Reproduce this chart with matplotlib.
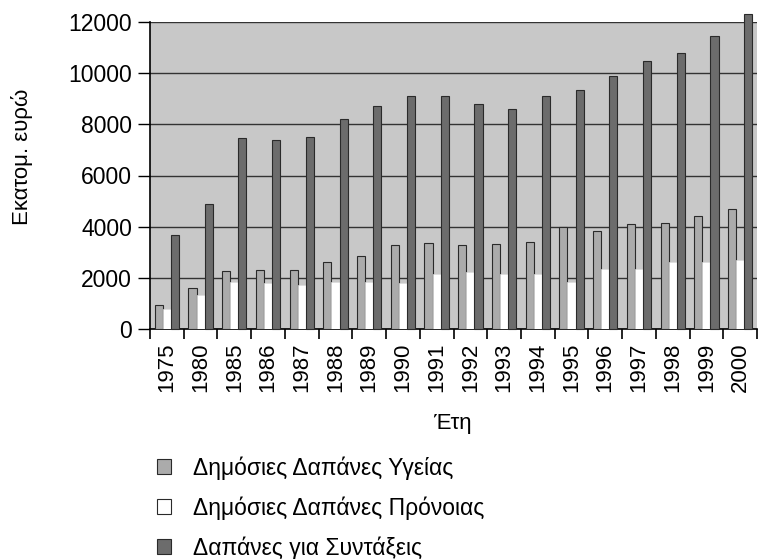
import matplotlib
matplotlib.use("Agg")
import matplotlib.pyplot as plt
import numpy as np
from matplotlib.patches import Patch

years = ["1975", "1980", "1985", "1986", "1987", "1988", "1989", "1990", "1991", "1992",
         "1993", "1994", "1995", "1996", "1997", "1998", "1999", "2000"]
health = [920, 1600, 2280, 2300, 2300, 2600, 2840, 3270, 3350, 3290,
          3340, 3390, 3970, 3830, 4100, 4160, 4400, 4680]
welfare = [800, 1330, 1830, 1800, 1730, 1830, 1850, 1800, 2140, 2230,
           2140, 2140, 1840, 2330, 2330, 2630, 2630, 2710]
pensions = [3670, 4880, 7450, 7400, 7500, 8200, 8700, 9120, 9120, 8800,
            8580, 9120, 9350, 9880, 10480, 10800, 11470, 12300]
series_labels = ["Δημόσιες Δαπάνες Υγείας", "Δημόσιες Δαπάνες Πρόνοιας", "Δαπάνες για Συντάξεις"]
y_ticks = [0, 2000, 4000, 6000, 8000, 10000, 12000]

plt.rcParams['font.family'] = ['Liberation Sans', 'DejaVu Sans']

W, H = 759, 559
fig = plt.figure(figsize=(W / 100, H / 100), dpi=100)
left, right, bottom, top = 150, 757, 329, 22
ax = fig.add_axes([left / W, 1 - bottom / H, (right - left) / W, (bottom - top) / H])

bg = "#c8c8c8"
c_health = "#ababab"
c_welfare = "#ffffff"
c_pension = "#6c6c6c"
edge = "#2a2a2a"

ax.set_facecolor(bg)
x = np.arange(len(years))
bw = 0.24
ax.bar(x - bw, health, bw, color=c_health, edgecolor=edge, linewidth=0.8, zorder=3)
ax.bar(x, welfare, bw, color=c_welfare, edgecolor="#dddddd", linewidth=0.5, zorder=3)
bars = ax.bar(x + bw, pensions, bw, color=c_pension, edgecolor=edge, linewidth=0.8, zorder=3)
for b in bars:
    b.set_clip_on(False)

ax.set_xlim(-0.5, len(years) - 0.5)
ax.set_ylim(0, 12000)
ax.set_yticks(y_ticks)
ax.set_yticklabels([str(v) for v in y_ticks], fontsize=16.5)
ax.yaxis.grid(True, color="#333333", linewidth=1.0, zorder=1)
ax.set_axisbelow(True)

ax.set_xticks(x)
ax.set_xticklabels(years, rotation=90, fontsize=16)
ax.set_xticks(np.arange(len(years) + 1) - 0.5, minor=True)
ax.tick_params(axis='x', which='major', length=0, pad=10)
ax.tick_params(axis='x', which='minor', length=7, width=1.2, direction='out')
ax.tick_params(axis='y', length=9, width=1.0, direction='out', pad=4)

for s in ["top", "right"]:
    ax.spines[s].set_visible(False)
ax.spines["left"].set_linewidth(1.2)
ax.spines["bottom"].set_linewidth(1.2)

fig.text(22 / W, 1 - 157 / H, "Εκατομ. ευρώ", rotation=90, fontsize=16,
         ha="center", va="center")
fig.text(452 / W, 1 - 423 / H, "Έτη", fontsize=16, ha="center", va="center")

handles = [Patch(facecolor=c_health, edgecolor=edge, linewidth=0.8),
           Patch(facecolor=c_welfare, edgecolor=edge, linewidth=0.8),
           Patch(facecolor=c_pension, edgecolor=edge, linewidth=0.8)]
fig.legend(handles, series_labels, loc="upper left", bbox_to_anchor=(157 / W, 1 - 456 / H),
           frameon=False, fontsize=16.5, handlelength=0.6, handleheight=0.6,
           handletextpad=0.95, labelspacing=0.72, borderaxespad=0, borderpad=0)

fig.savefig("out.png", dpi=100)
